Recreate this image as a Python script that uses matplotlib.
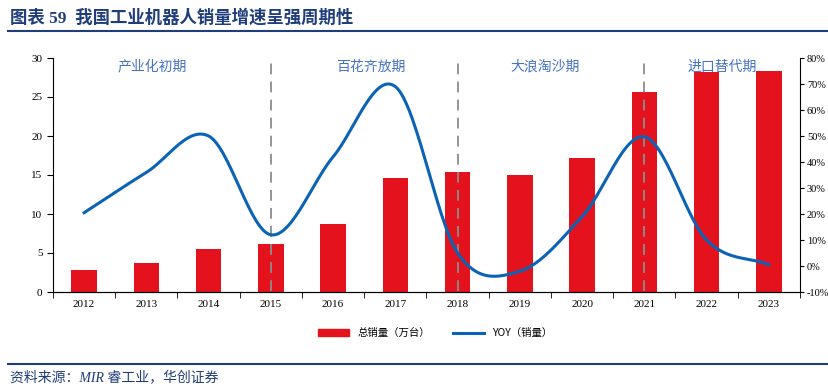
#!/usr/bin/env python3
"""China industrial robot sales and YoY growth, 2012-2023."""
import matplotlib
matplotlib.use("Agg")
import matplotlib.pyplot as plt
from matplotlib.lines import Line2D
from matplotlib.patches import Patch
import numpy as np

plt.rcParams["font.family"] = ["Liberation Serif", "Noto Sans CJK SC", "DejaVu Sans"]

years = ["2012", "2013", "2014", "2015", "2016", "2017",
         "2018", "2019", "2020", "2021", "2022", "2023"]
sales = [2.8, 3.7, 5.5, 6.2, 8.7, 14.6, 15.4, 15.0, 17.2, 25.6, 28.2, 28.3]
yoy = [20.5, 36.0, 50.0, 12.0, 42.0, 69.0, 5.0, -2.0, 19.0, 49.7, 10.0, 0.5]
phases = ["产业化初期", "百花齐放期", "大浪淘沙期", "进口替代期"]
phase_pos = [1.1, 4.6, 7.4, 10.25]
dividers = [3, 6, 9]

RED = "#E3121C"
BLUE = "#0B63B5"
NAVY = "#1F3D7A"
CJK = ["Noto Sans CJK SC", "DejaVu Sans"]


def smooth(x, y, n=30):
    # Catmull-Rom style smoothing, like a spreadsheet "smoothed line"
    x = np.asarray(x, float)
    y = np.asarray(y, float)
    px = np.concatenate([[2 * x[0] - x[1]], x, [2 * x[-1] - x[-2]]])
    py = np.concatenate([[2 * y[0] - y[1]], y, [2 * y[-1] - y[-2]]])
    xs, ys = [], []
    t = np.linspace(0, 1, n, endpoint=False)
    for i in range(1, len(px) - 2):
        for arr, a in ((xs, px), (ys, py)):
            a0, a1, a2, a3 = a[i - 1], a[i], a[i + 1], a[i + 2]
            arr.extend(0.5 * (2 * a1 + (-a0 + a2) * t
                              + (2 * a0 - 5 * a1 + 4 * a2 - a3) * t ** 2
                              + (-a0 + 3 * a1 - 3 * a2 + a3) * t ** 3))
    xs.append(x[-1])
    ys.append(y[-1])
    return np.array(xs), np.array(ys)


fig = plt.figure(figsize=(8.29, 3.88), dpi=100)
ax = fig.add_axes([53 / 829, 1 - 292 / 388, 747 / 829, 234 / 388])
x = np.arange(len(years))
ax.bar(x, sales, 0.41, color=RED, zorder=2)
ax.set_xlim(-0.5, len(years) - 0.5)
ax.set_ylim(0, 30)
ax.set_yticks(range(0, 31, 5))
ax.set_xticks(x)
ax.set_xticklabels(years)
ax.set_xticks(np.arange(-0.5, len(years), 1), minor=True)
ax.tick_params(axis="x", which="major", length=0, labelsize=8, pad=6)
ax.tick_params(axis="x", which="minor", length=4, direction="out")
ax.tick_params(axis="y", labelsize=8, length=4, direction="out")
ax.spines["top"].set_visible(False)
ax.spines["right"].set_visible(False)

ax2 = ax.twinx()
sx, sy = smooth(x, yoy)
ax2.plot(sx, sy, color=BLUE, lw=2.2, zorder=3)
ax2.set_ylim(-10, 80)
ax2.set_yticks(range(-10, 81, 10))
ax2.set_yticklabels([f"{v}%" for v in range(-10, 81, 10)])
ax2.tick_params(axis="y", labelsize=7.5, length=3, pad=2, direction="out")
ax2.spines["top"].set_visible(False)
ax2.spines["left"].set_visible(False)

for d in dividers:
    ax.plot([d, d], [0.1, 29.3], color="#8C8C8C", lw=1.3, ls=(0, (6, 4)), zorder=4)
for name, p in zip(phases, phase_pos):
    ax.text(p, 28.9, name, ha="center", va="center", fontsize=10,
            color="#4472C4", family=CJK)

handles = [Patch(color=RED), Line2D([], [], color=BLUE, lw=2.2)]
fig.legend(handles, ["总销量（万台）", "YOY（销量）"], loc="center",
           bbox_to_anchor=(0.525, 1 - 333 / 388), ncol=2, frameon=False,
           prop={"family": CJK, "size": 7.5}, handlelength=3.0, columnspacing=2.2,
           handleheight=0.6)

fig.text(10 / 829, 1 - 18 / 388, "图表 59  我国工业机器人销量增速呈强周期性",
         fontsize=12.5, fontweight="bold", color=NAVY, va="center",
         family=["Liberation Serif", "Noto Sans CJK SC"])
fig.add_artist(Line2D([8 / 829, 1], [1 - 31 / 388] * 2, color=NAVY, lw=1.5))
fig.add_artist(Line2D([8 / 829, 1], [1 - 364 / 388] * 2, color=NAVY, lw=1.5))
fig.text(10 / 829, 1 - 377 / 388, "资料来源：MIR 睿工业，华创证券", fontsize=10,
         style="italic", color=NAVY, va="center",
         family=["Liberation Serif", "Noto Sans CJK SC"])

fig.savefig("out.png", dpi=100)
